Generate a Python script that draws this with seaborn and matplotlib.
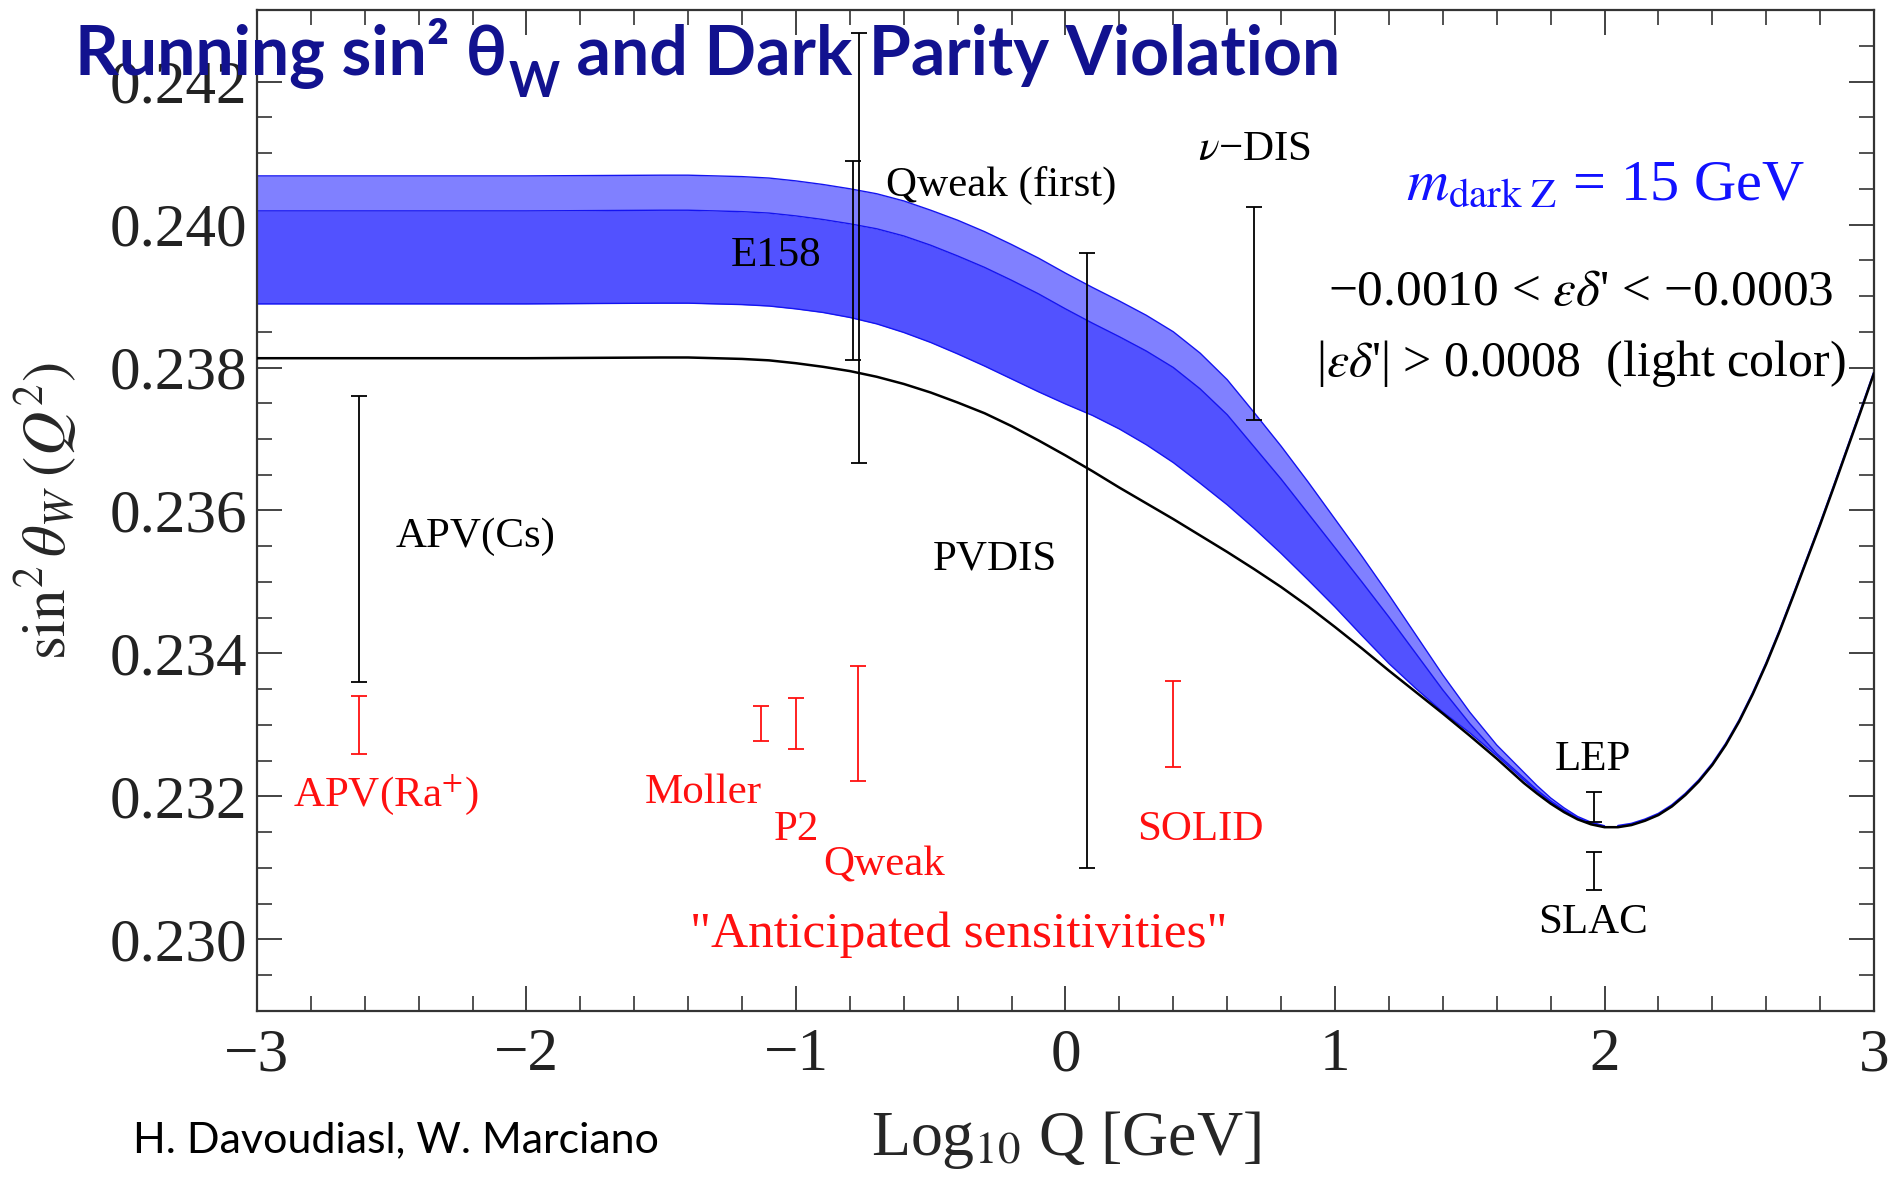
import numpy as np
import pandas as pd
import matplotlib
matplotlib.use("Agg")
import matplotlib.pyplot as plt
import seaborn as sns
from matplotlib.ticker import MultipleLocator, FormatStrFormatter

# ---------------- data ----------------
# low-Q grid, where the dark-Z band is separate from the SM curve
log_q_band = [-3.0, -2.5, -2.0, -1.5, -1.4, -1.3, -1.2, -1.1, -1.0, -0.9, -0.8, -0.7, -0.6,
              -0.5, -0.4, -0.3, -0.2, -0.1, 0.0, 0.1, 0.2, 0.3, 0.4, 0.5, 0.6, 0.7, 0.8, 0.9,
              1.0, 1.1, 1.2, 1.3, 1.4, 1.5, 1.6, 1.7, 1.75, 1.8, 1.85, 1.9, 1.95, 2.0]
# Standard-model running (black curve) on the low-Q grid
sm_low_q = [0.23813, 0.23813, 0.23813, 0.23814, 0.23814, 0.23813, 0.23812, 0.23810, 0.23806,
            0.23801, 0.23795, 0.23787, 0.23777, 0.23765, 0.23751, 0.23736, 0.23718, 0.23698,
            0.23677, 0.23655, 0.23632, 0.23610, 0.23588, 0.23565, 0.23542, 0.23518, 0.23493,
            0.23466, 0.23437, 0.23407, 0.23376, 0.23346, 0.23316, 0.23285, 0.23253, 0.23219,
            0.23204, 0.23190, 0.23178, 0.23168, 0.23161, 0.23157]
# dark-Z band edges on the low-Q grid
band_top = [0.24068, 0.24068, 0.24068, 0.24069, 0.24069, 0.24068, 0.24067, 0.24065, 0.24061,
            0.24056, 0.24050, 0.24043, 0.24033, 0.24020, 0.24006, 0.23990, 0.23972, 0.23953,
            0.23932, 0.23912, 0.23893, 0.23873, 0.23850, 0.23820, 0.23783, 0.23737, 0.23690,
            0.23640, 0.23588, 0.23536, 0.23482, 0.23426, 0.23370, 0.23318, 0.23272, 0.23234,
            0.23215, 0.23198, 0.23184, 0.23172, 0.23164, 0.23159]
band_mid = [0.24019, 0.24019, 0.24019, 0.24020, 0.24020, 0.24019, 0.24018, 0.24016, 0.24012,
            0.24007, 0.24001, 0.23994, 0.23984, 0.23971, 0.23956, 0.23940, 0.23922, 0.23903,
            0.23882, 0.23862, 0.23843, 0.23823, 0.23800, 0.23770, 0.23734, 0.23689, 0.23644,
            0.23596, 0.23548, 0.23500, 0.23451, 0.23400, 0.23349, 0.23302, 0.23260, 0.23226,
            0.23209, 0.23194, 0.23181, 0.23170, 0.23163, 0.23158]
band_low = [0.23889, 0.23889, 0.23889, 0.23890, 0.23890, 0.23889, 0.23888, 0.23886, 0.23882,
            0.23877, 0.23870, 0.23861, 0.23849, 0.23835, 0.23819, 0.23802, 0.23784, 0.23766,
            0.23749, 0.23733, 0.23714, 0.23692, 0.23667, 0.23638, 0.23608, 0.23575, 0.23540,
            0.23503, 0.23465, 0.23425, 0.23386, 0.23351, 0.23318, 0.23289, 0.23257, 0.23223,
            0.23207, 0.23192, 0.23180, 0.23169, 0.23162, 0.23158]

# above the Z pole all curves coincide
log_q_high = [2.05, 2.1, 2.15, 2.2, 2.25, 2.3, 2.35, 2.4, 2.45, 2.5, 2.55, 2.6, 2.65, 2.7,
              2.75, 2.8, 2.85, 2.9, 2.95, 3.0]
sm_high_q = [0.23157, 0.23160, 0.23166, 0.23174, 0.23186, 0.23202, 0.23221, 0.23244,
             0.23272, 0.23305, 0.23343, 0.23385, 0.23431, 0.23480, 0.23530, 0.23580,
             0.23632, 0.23685, 0.23738, 0.23792]

meas_names = ["APV(Cs)", "E158", "Qweak (first)", "PVDIS", "nu-DIS", "LEP", "SLAC"]
meas_x = [-2.62, -0.789, -0.767, 0.08, 0.70, 1.96, 1.96]
meas_y = [0.23560, 0.23950, 0.23967, 0.23530, 0.23876, 0.23185, 0.23096]
meas_err = [0.00200, 0.00139, 0.00301, 0.00430, 0.00149, 0.00021, 0.00027]

fut_names = ["APV(Ra+)", "Moller", "P2", "Qweak", "SOLID"]
fut_x = [-2.62, -1.128, -1.0, -0.768, 0.398]
fut_y = [0.23300, 0.23302, 0.23302, 0.23302, 0.23301]
fut_err = [0.00041, 0.00024, 0.00036, 0.00080, 0.00060]

# ---------------- style ----------------
sns.set_theme(style="ticks")
plt.rcParams["font.family"] = ["Liberation Serif", "DejaVu Serif"]
plt.rcParams["mathtext.fontset"] = "stix"
plt.rcParams["axes.unicode_minus"] = True

fig = plt.figure(figsize=(18.92, 11.81), dpi=100)
ax = fig.add_axes([0.1358, 0.1440, 0.8547, 0.8475])

band = pd.DataFrame({"logq": log_q_band, "top": band_top,
                     "mid": band_mid, "low": band_low})
sm = pd.DataFrame({"logq": log_q_band + log_q_high, "sm": sm_low_q + sm_high_q})

ax.fill_between(band["logq"], band["low"], band["mid"], color="#5252FF", lw=0, zorder=1)
ax.fill_between(band["logq"], band["mid"], band["top"], color="#8080FF", lw=0, zorder=1)
for col in ["top", "mid", "low"]:
    sns.lineplot(data=band, x="logq", y=col, ax=ax, color="#1414F0", linewidth=1.0,
                 zorder=2, sort=False)
# blue trace under the black curve where the band has collapsed
sns.lineplot(x=log_q_high, y=[v + 0.00002 for v in sm_high_q], ax=ax, color="#1414F0",
             linewidth=1.4, zorder=2, sort=False)
sns.lineplot(data=sm, x="logq", y="sm", ax=ax, color="black", linewidth=1.8,
             zorder=3, sort=False)

ax.errorbar(meas_x, meas_y, yerr=meas_err, fmt="none", ecolor="black",
            elinewidth=1.3, capsize=6, capthick=1.3, zorder=4)
ax.errorbar(fut_x, fut_y, yerr=fut_err, fmt="none", ecolor="#FF1010",
            elinewidth=1.3, capsize=6, capthick=1.3, zorder=4)

ax.set_xlim(-3, 3)
ax.set_ylim(0.2290, 0.2430)
ax.xaxis.set_major_locator(MultipleLocator(1))
ax.xaxis.set_minor_locator(MultipleLocator(0.2))
ax.yaxis.set_major_locator(MultipleLocator(0.002))
ax.yaxis.set_minor_locator(MultipleLocator(0.0005))
ax.yaxis.set_major_formatter(FormatStrFormatter("%.3f"))
ax.tick_params(which="both", direction="in", top=True, right=True, colors="#222222")
ax.tick_params(which="major", length=18, width=1.2, labelsize=44)
ax.tick_params(which="minor", length=11, width=1.1)
ax.tick_params(axis="x", which="major", pad=12)
ax.tick_params(axis="y", which="major", pad=7)
for s in ax.spines.values():
    s.set_linewidth(1.6)
    s.set_color("#333333")

ax.set_xlabel(r"Log$_{10}$ Q [GeV]", fontsize=46)
ax.xaxis.set_label_coords(0.5, -0.129)
ax.xaxis.label.set_va("center")
ax.set_ylabel(r"$\sin^2\theta_W\;(Q^2)$", fontsize=44)
ax.yaxis.set_label_coords(-0.1305, 0.5)
ax.yaxis.label.set_va("center")

# ---------------- annotations ----------------
blk = dict(color="black", fontsize=31, ha="center", va="center", zorder=6)
red = dict(color="#FF1010", fontsize=31, ha="center", va="center", zorder=6)
ax.text(-2.187, 0.23563, "APV(Cs)", **blk)
ax.text(-1.075, 0.23956, "E158", **blk)
ax.text(-0.238, 0.24054, "Qweak (first)", **blk)
ax.text(-0.261, 0.23532, "PVDIS", **blk)
ax.text(0.703, 0.24105, r"$\nu$−DIS", **blk)
ax.text(1.957, 0.23252, "LEP", **blk)
ax.text(1.957, 0.23024, "SLAC", **blk)

ax.text(-2.521, 0.23202, r"APV(Ra$^{+}$)", **red)
ax.text(-1.343, 0.23205, "Moller", **red)
ax.text(-1.0, 0.23154, "P2", **red)
ax.text(-0.673, 0.23104, "Qweak", **red)
ax.text(0.501, 0.23154, "SOLID", **red)
ax.text(-0.395, 0.23006, "\"Anticipated sensitivities\"", color="#FF1010",
        fontsize=37, ha="center", va="center", zorder=6)

ax.text(2.002, 0.24054, r"$m_{\mathrm{dark\ Z}}$ = 15 GeV", color="#1212FF",
        fontsize=42, ha="center", va="center", zorder=6)
ax.text(1.912, 0.23905, r"−0.0010 < $\varepsilon\delta$' < −0.0003", color="black",
        fontsize=37, ha="center", va="center", zorder=6)
ax.text(1.912, 0.23806, r"|$\varepsilon\delta$'| > 0.0008  (light color)", color="black",
        fontsize=36, ha="center", va="center", zorder=6)

# ---------------- slide title and credit ----------------
title_color = "#12128F"
tfam = ["Lato", "DejaVu Sans"]
fig.canvas.draw()
renderer = fig.canvas.get_renderer()
x0, ybase = 75 / 1892, 1 - 75 / 1181
t1 = fig.text(x0, ybase, "Running sin² θ", family=tfam, fontweight="bold",
              fontsize=49, color=title_color, va="baseline", zorder=10)
bb = t1.get_window_extent(renderer)
x1 = (bb.x1 + 2) / fig.bbox.width
t2 = fig.text(x1, ybase - 22 / 1181, "W", family=tfam, fontweight="bold",
              fontsize=35, color=title_color, va="baseline", zorder=10)
bb2 = t2.get_window_extent(renderer)
x2 = bb2.x1 / fig.bbox.width
fig.text(x2, ybase, " and Dark Parity Violation", family=tfam, fontweight="bold",
         fontsize=49, color=title_color, va="baseline", zorder=10)

fig.text(133 / 1892, 1 - 1140 / 1181, "H. Davoudiasl, W. Marciano", family=tfam,
         fontsize=31, color="black", va="center", ha="left")

fig.savefig("out.png", dpi=100)
